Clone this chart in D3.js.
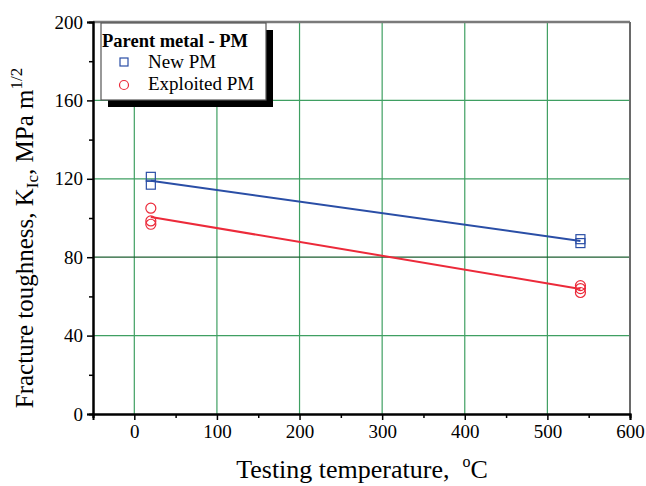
<!DOCTYPE html>
<html>
<head>
<meta charset="utf-8">
<script src="https://cdn.jsdelivr.net/npm/d3@7"></script>
<style>
  body { margin: 0; background: #fff; }
  svg text { font-family: "Liberation Serif", "Times New Roman", serif; }
</style>
</head>
<body>
<div id="chart"></div>
<script>
// data
const newTemps = [20, 20, 540, 540];
const newK = [121, 117, 89.2, 87.2];
const exploitedTemps = [20, 20, 20, 540, 540, 540];
const exploitedK = [105, 98.5, 96.8, 65.5, 64, 62];
// fitted lines (end points)
const newFitT = [20, 540];
const newFitK = [119, 88.3];
const exploitedFitT = [20, 540];
const exploitedFitK = [100.5, 63.8];

const xTicks = [0, 100, 200, 300, 400, 500, 600];
const yTicks = [0, 40, 80, 120, 160, 200];

const width = 646, height = 486;
const margin = {left: 93, right: 16, top: 22, bottom: 72};

const svg = d3.select('#chart')
    .append('svg')
    .attr('width', width)
    .attr('height', height);

const x = d3.scaleLinear().domain([-50, 600]).range([margin.left, width - margin.right]);
const y = d3.scaleLinear().domain([0, 200]).range([height - margin.bottom, margin.top]);

const blue = '#2a4ea6';
const red = '#ec2a3a';

// grid
svg.append('g').selectAll('line')
    .data(xTicks.filter(d => d < 600))
    .enter().append('line')
    .attr('x1', d => x(d)).attr('x2', d => x(d))
    .attr('y1', y(0)).attr('y2', y(200))
    .attr('stroke', '#3f9f62').attr('stroke-width', 1.2);

svg.append('g').selectAll('line')
    .data(yTicks.filter(d => d > 0 && d < 200))
    .enter().append('line')
    .attr('x1', x(-50)).attr('x2', x(600))
    .attr('y1', d => y(d)).attr('y2', d => y(d))
    .attr('stroke', d => d === 80 ? '#1d5e30' : '#3f9f62')
    .attr('stroke-width', 1.2);

// frame top / right
svg.append('line')
    .attr('x1', x(-50)).attr('x2', x(600))
    .attr('y1', y(200)).attr('y2', y(200))
    .attr('stroke', '#7a7a7a').attr('stroke-width', 2.5);
svg.append('line')
    .attr('x1', x(600)).attr('x2', x(600))
    .attr('y1', y(200)).attr('y2', y(0))
    .attr('stroke', '#6a6a6a').attr('stroke-width', 2);

// axes
const xAxis = d3.axisBottom(x).tickValues(xTicks).tickSize(6).tickPadding(5);
const xMinor = d3.axisBottom(x).tickValues([-50, 50, 150, 250, 350, 450, 550]).tickSize(4).tickFormat('');
const yAxis = d3.axisLeft(y).tickValues(yTicks).tickSize(6).tickPadding(4);
const yMinor = d3.axisLeft(y).tickValues([20, 60, 100, 140, 180]).tickSize(4).tickFormat('');

function styleAxis(g) {
    g.attr('font-family', null);
    g.select('.domain').attr('stroke', '#000').attr('stroke-width', 2);
    g.selectAll('.tick line').attr('stroke', '#000').attr('stroke-width', 1.5);
    g.selectAll('text')
        .style('font-family', '"Liberation Serif", serif')
        .style('font-size', '19px').attr('fill', '#000');
}

svg.append('g').attr('transform', `translate(0,${y(0)})`).call(xMinor).call(styleAxis);
svg.append('g').attr('transform', `translate(0,${y(0)})`).call(xAxis).call(styleAxis);
svg.append('g').attr('transform', `translate(${x(-50)},0)`).call(yMinor).call(styleAxis);
svg.append('g').attr('transform', `translate(${x(-50)},0)`).call(yAxis).call(styleAxis);

// fit lines
const line = d3.line().x(d => x(d[0])).y(d => y(d[1]));
svg.append('path')
    .attr('d', line(d3.zip(newFitT, newFitK)))
    .attr('fill', 'none').attr('stroke', blue).attr('stroke-width', 2);
svg.append('path')
    .attr('d', line(d3.zip(exploitedFitT, exploitedFitK)))
    .attr('fill', 'none').attr('stroke', red).attr('stroke-width', 2);

// points
const sq = 9;
svg.append('g').selectAll('rect')
    .data(d3.zip(newTemps, newK))
    .enter().append('rect')
    .attr('x', d => x(d[0]) - sq / 2).attr('y', d => y(d[1]) - sq / 2)
    .attr('width', sq).attr('height', sq)
    .attr('fill', 'none').attr('stroke', blue).attr('stroke-width', 1.2);

svg.append('g').selectAll('circle')
    .data(d3.zip(exploitedTemps, exploitedK))
    .enter().append('circle')
    .attr('cx', d => x(d[0])).attr('cy', d => y(d[1]))
    .attr('r', 5)
    .attr('fill', 'none').attr('stroke', red).attr('stroke-width', 1.2);

// legend
const lg = svg.append('g');
lg.append('rect')
    .attr('x', 108).attr('y', 30).attr('width', 165).attr('height', 77)
    .attr('fill', '#000');
lg.append('rect')
    .attr('x', 101).attr('y', 23).attr('width', 165).attr('height', 77)
    .attr('fill', '#fff').attr('stroke', '#555').attr('stroke-width', 1.2);
lg.append('text')
    .attr('x', 102).attr('y', 47)
    .style('font-size', '18.5px').attr('font-weight', 'bold')
    .text('Parent metal - PM');
lg.append('rect')
    .attr('x', 124 - 4).attr('y', 62 - 4).attr('width', 8).attr('height', 8)
    .attr('fill', 'none').attr('stroke', blue).attr('stroke-width', 1.2);
lg.append('text')
    .attr('x', 148).attr('y', 68).style('font-size', '19px')
    .text('New PM');
lg.append('circle')
    .attr('cx', 124).attr('cy', 85).attr('r', 4.5)
    .attr('fill', 'none').attr('stroke', red).attr('stroke-width', 1.2);
lg.append('text')
    .attr('x', 148).attr('y', 90).style('font-size', '19px')
    .text('Exploited PM');

// axis titles
const xt = svg.append('text')
    .attr('x', 362).attr('y', 478)
    .attr('text-anchor', 'middle').style('font-size', '26px')
    .attr('xml:space', 'preserve').style('white-space', 'pre');
xt.append('tspan').text('Testing temperature,  ');
xt.append('tspan').style('font-size', '16px').attr('dy', -11).text('o');
xt.append('tspan').attr('dy', 11).text('C');

const yt = svg.append('text')
    .attr('transform', `translate(33,238) rotate(-90)`)
    .attr('text-anchor', 'middle').style('font-size', '25px');
yt.append('tspan').text('Fracture toughness, K');
yt.append('tspan').style('font-size', '17px').attr('dy', 5).text('Ic');
yt.append('tspan').attr('dy', -5).text(', MPa m');
yt.append('tspan').style('font-size', '17px').attr('dy', -11).text('1/2');
</script>
</body>
</html>
